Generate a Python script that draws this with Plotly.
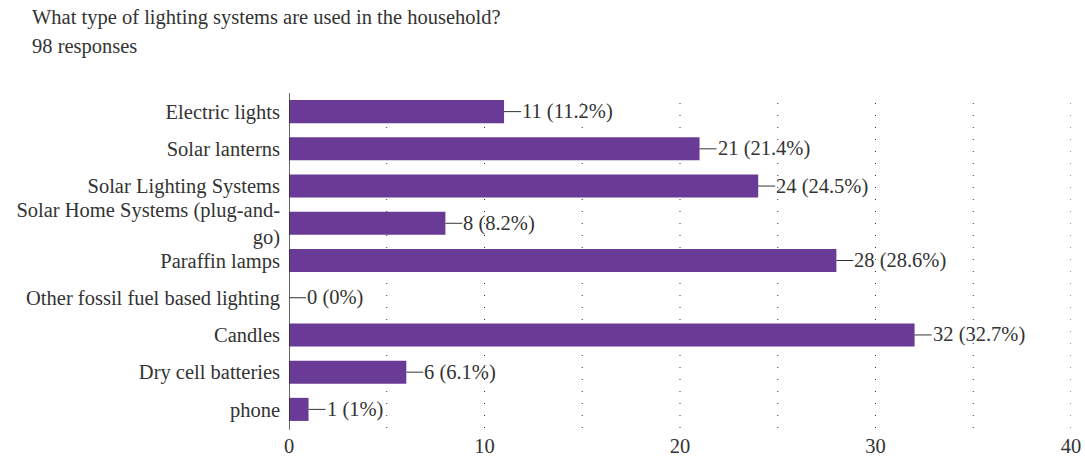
import plotly.graph_objects as go

categories = [
    "Electric lights",
    "Solar lanterns",
    "Solar Lighting Systems",
    "Solar Home Systems (plug-and-<br>go)",
    "Paraffin lamps",
    "Other fossil fuel based lighting",
    "Candles",
    "Dry cell batteries",
    "phone",
]
counts = [11, 21, 24, 8, 28, 0, 32, 6, 1]
percent_labels = ["11.2%", "21.4%", "24.5%", "8.2%", "28.6%", "0%", "32.7%", "6.1%", "1%"]
x_ticks = [0, 10, 20, 30, 40]
grid_values = [5, 10, 15, 20, 25, 30, 35, 40]

title_text = "What type of lighting systems are used in the household?"
subtitle_text = "98 responses"

FONT = "Liberation Serif"
FS = 20.5
TXT = "#333333"
BAR = "#6a3b96"

fig = go.Figure()
fig.add_trace(go.Bar(
    x=counts, y=categories, orientation="h",
    marker=dict(color=BAR, line=dict(width=0)),
    hoverinfo="skip",
))

shapes = []
for g in grid_values:
    shapes.append(dict(type="line", xref="x", yref="paper", x0=g, x1=g, y0=0, y1=1,
                       line=dict(color="#333333", width=1, dash="1px,11px"), layer="below"))
shapes.append(dict(type="line", xref="x", yref="paper", x0=0, x1=0, y0=-0.005, y1=1.0,
                   line=dict(color="#333333", width=1.5)))

annotations = []
for c, v, p in zip(categories, counts, percent_labels):
    annotations.append(dict(
        x=v, y=c, xref="x", yref="y", text=f"{v} ({p})",
        showarrow=True, arrowhead=0, arrowwidth=1, arrowcolor="#333333",
        ax=17, ay=0, xanchor="left", yanchor="middle",
        font=dict(family=FONT, size=FS, color=TXT), borderpad=0,
    ))

plot_w = 1071 - 289
plot_h = 428 - 93
annotations.append(dict(x=(30 - 289) / plot_w, y=(428 - 17) / plot_h, xref="paper", yref="paper",
                        text=title_text, showarrow=False, xanchor="left", yanchor="middle",
                        font=dict(family=FONT, size=FS, color=TXT)))
annotations.append(dict(x=(30 - 289) / plot_w, y=(428 - 47) / plot_h, xref="paper", yref="paper",
                        text=subtitle_text, showarrow=False, xanchor="left", yanchor="middle",
                        font=dict(family=FONT, size=FS, color=TXT)))

fig.update_layout(
    width=1085, height=458,
    margin=dict(l=289, r=14, t=93, b=30, autoexpand=False),
    paper_bgcolor="white", plot_bgcolor="white",
    showlegend=False,
    bargap=0.38,
    font=dict(family=FONT, size=FS, color=TXT),
    shapes=shapes,
    annotations=annotations,
    xaxis=dict(range=[0, 40], tickvals=x_ticks, showgrid=False, zeroline=False,
               showline=False, ticks="", automargin=False, ticklabelstandoff=3,
               tickfont=dict(family=FONT, size=FS, color=TXT), fixedrange=True),
    yaxis=dict(autorange="reversed", showgrid=False, zeroline=False, showline=False,
               ticks="", ticklabelstandoff=8, automargin=False,
               tickfont=dict(family=FONT, size=FS, color=TXT), fixedrange=True),
)

fig.write_html("out.html", config={"displayModeBar": False},
               post_script="document.body.style.margin='0';")
